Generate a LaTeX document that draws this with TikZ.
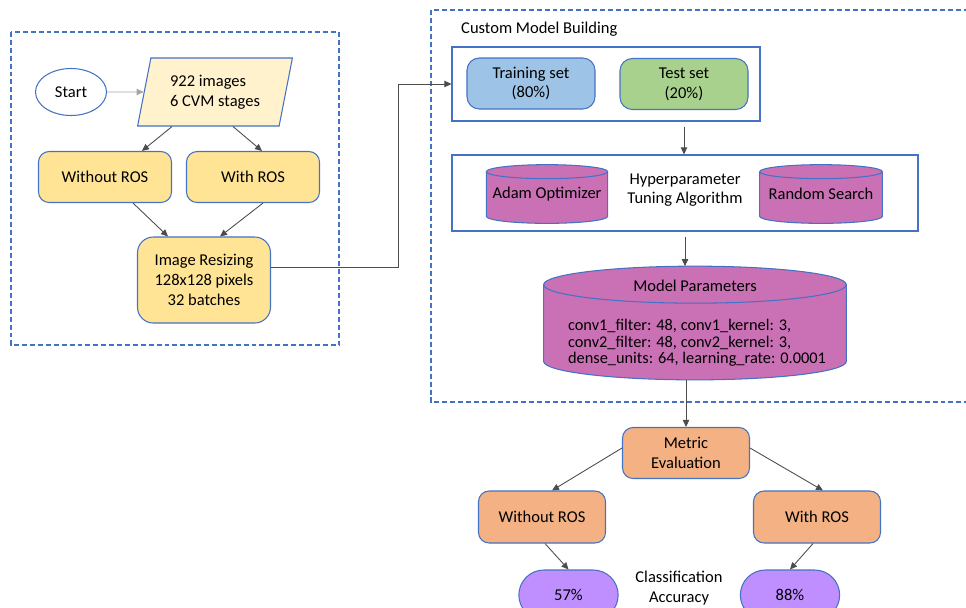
\documentclass[tikz,border=0pt]{standalone}
\usepackage{fontspec}
\setmainfont{Carlito}
\usepackage{xcolor}
\usetikzlibrary{positioning,shapes.geometric,shapes.misc,arrows.meta,calc,backgrounds}
\definecolor{edge}{RGB}{68,114,196}
\definecolor{datafill}{RGB}{255,242,204}
\definecolor{prepfill}{RGB}{255,228,150}
\definecolor{trainfill}{RGB}{157,195,230}
\definecolor{testfill}{RGB}{169,209,142}
\definecolor{tunefill}{RGB}{202,112,180}
\definecolor{evalfill}{RGB}{244,177,131}
\definecolor{accfill}{RGB}{192,143,255}

% cylinder behind a node: #1 node, #2 radius of the end
\newcommand\drawdrum[2]{%
  \path[drum] let \p1=($(#1.east)-(#1.west)$) in
    ($(#1.north west)+(0,-#2)$) -- ($(#1.south west)+(0,#2)$)
    arc[start angle=180, end angle=360, x radius=0.5*\x1, y radius=#2]
    -- ($(#1.north east)+(0,-#2)$)
    arc[start angle=0, end angle=180, x radius=0.5*\x1, y radius=#2] -- cycle;
  \draw[drumrim] let \p1=($(#1.east)-(#1.west)$) in
    ($(#1.north west)+(0,-#2)$)
    arc[start angle=180, end angle=360, x radius=0.5*\x1, y radius=#2];}

\begin{document}
\begin{tikzpicture}[
    font=\fontsize{9.4}{11.2}\selectfont,
    box/.style={draw=edge, line width=0.6pt, rounded corners=6pt, minimum width=2.66cm, minimum height=1.02cm, align=center},
    prep/.style={box, fill=prepfill},
    evalbox/.style={box, fill=evalfill, minimum width=2.54cm},
    setbox/.style={box, minimum width=2.56cm, rounded corners=7pt},
    frame/.style={draw=edge, line width=0.6pt},
    group/.style={draw=edge, line width=0.8pt, dash pattern=on 2.8pt off 1.7pt},
    drum/.style={draw=edge, line width=0.6pt, fill=tunefill},
    drumrim/.style={draw=edge, line width=0.6pt},
    pill/.style={rounded rectangle, draw=edge, line width=0.6pt, fill=accfill, minimum width=2.22cm, minimum height=1cm},
    arrow/.style={-{Triangle[length=4pt,width=3.6pt]}, draw=black!70, line width=0.5pt}
]
\useasboundingbox (0,0) rectangle (19.32,-12.14);

% Groups
\draw[group] (0.22,-0.64) rectangle (6.78,-6.9);
\draw[group] (8.62,-0.2) rectangle (19.6,-8.04);
\node[anchor=west] (title) at (9.1,-0.58) {Custom Model Building};

% Data preparation
\node[ellipse, draw=edge, line width=0.6pt, minimum width=1.42cm, minimum height=0.94cm] (start) at (1.42,-1.84) {Start};
\node[trapezium, trapezium left angle=77, trapezium right angle=103, trapezium stretches=true, draw=edge, line width=0.6pt, fill=datafill, minimum width=3.1cm, minimum height=1.36cm, align=left] (data) at (4.3,-1.84) {922 images\\6 CVM stages};
\node[prep] (woL) at (2.1,-3.54) {Without ROS};
\node[prep] (wL) at (5.06,-3.54) {With ROS};
\node[prep, minimum height=1.72cm, rounded corners=9pt] (resize) at (4.08,-5.6) {Image Resizing\\128x128 pixels\\32 batches};

% Data split
\node[frame, minimum width=6.16cm, minimum height=1.48cm] (split) at (12.12,-1.68) {};
\node[setbox, fill=trainfill] (train) at (10.62,-1.67) {Training set\\(80\%)};
\node[setbox, fill=testfill] (test) at (13.68,-1.68) {Test set\\(20\%)};

% Hyperparameter tuning
\node[frame, minimum width=9.32cm, minimum height=1.52cm] (tune) at (13.7,-3.86) {};
\node[minimum width=2.4cm, minimum height=1.16cm] (adam) at (10.94,-3.88) {\raisebox{-4pt}{Adam Optimizer}};
\node[minimum width=2.44cm, minimum height=1.16cm] (search) at (16.42,-3.88) {\raisebox{-4pt}{Random Search}};
\node[align=center] (algo) at (13.7,-3.8) {Hyperparameter\\Tuning Algorithm};

% Model parameters
\node[minimum width=6.04cm, minimum height=2.26cm] (mp) at (13.9,-6.46) {};
\node (mptitle) at (13.9,-5.72) {Model Parameters};
\node[align=left, font=\fontsize{9.3}{9.3}\selectfont] (mpbody) at (13.94,-6.86) {conv1\_filter: 48, conv1\_kernel: 3,\\conv2\_filter: 48, conv2\_kernel: 3,\\dense\_units: 64, learning\_rate: 0.0001};

\begin{scope}[on background layer]
\drawdrum{adam}{0.14cm}
\drawdrum{search}{0.14cm}
\drawdrum{mp}{0.37cm}
\end{scope}

% Evaluation
\node[evalbox] (metric) at (13.72,-9.06) {Metric\\Evaluation};
\node[evalbox, minimum height=1.04cm] (woR) at (10.84,-10.34) {Without ROS};
\node[evalbox, minimum height=1.04cm] (wR) at (16.34,-10.34) {With ROS};
\node[pill] (acc1) at (11.37,-11.9) {57\%};
\node[pill] (acc2) at (15.8,-11.9) {88\%};
\node[align=center] (acclabel) at (13.58,-11.76) {Classification\\Accuracy};

% Arrows
\draw[arrow, draw=black!35] (start) -- (data);
\draw[arrow] ($(data.south)+(-0.86,0)$) -- ($(woL.north)+(0.74,0)$);
\draw[arrow] ($(data.south)+(0.36,0)$) -- ($(wL.north)+(0.18,0)$);
\draw[arrow] ($(woL.south)+(0.56,0)$) -- ($(resize.north)+(-0.72,0)$);
\draw[arrow] ($(wL.south)+(0.2,0)$) -- ($(resize.north)+(0.32,0)$);
\draw[arrow] ($(resize.east)+(0,0.26)$) -- ++(2.54,0) |- (split.west);
\draw[arrow] ($(test |- split.south)+(0,-0.1)$) -- (test |- tune.north);
\draw[arrow] ($(tune.south)+(0,-0.1)$) -- (tune.south |- mp.north);
\draw[arrow] (metric |- mp.south) -- (metric.north);
\draw[arrow] ($(metric.west)+(0,0.1)$) -- ($(woR.north)+(0.2,0)$);
\draw[arrow] ($(metric.east)+(0,0.1)$) -- ($(wR.north)+(0.12,0)$);
\draw[arrow] ($(woR.south)+(0.06,0)$) -- (acc1.north);
\draw[arrow] ($(wR.south)+(-0.08,0)$) -- (acc2.north);

\end{tikzpicture}
\end{document}
